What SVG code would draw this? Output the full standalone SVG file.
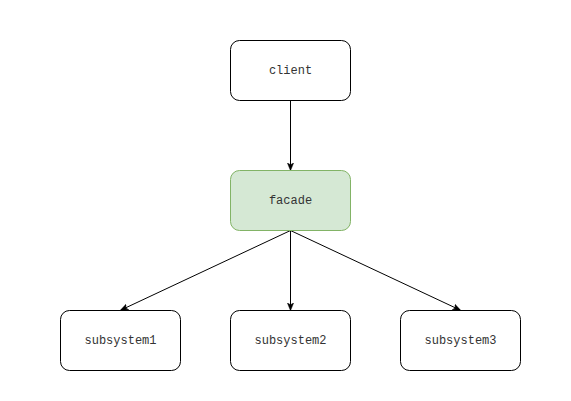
<svg xmlns="http://www.w3.org/2000/svg" width="571" height="401" viewBox="0 0 571 401">
<style>
.box{fill:#ffffff;stroke:#000000;stroke-width:1}
.green{fill:#d5e8d4;stroke:#82b366;stroke-width:1}
.lbl{font-family:"Liberation Mono","Courier New",monospace;font-size:12px;fill:#333333;text-anchor:middle;dominant-baseline:central}
.edge{stroke:#000000;stroke-width:1;fill:none}
</style>
<defs>
<marker id="arr" viewBox="0 0 10 10" refX="9" refY="5" markerWidth="8" markerHeight="8" orient="auto" markerUnits="userSpaceOnUse">
<path d="M0,1 L10,5 L0,9 L2.5,5 Z" fill="#000000" stroke="#000000" stroke-width="0.5"/>
</marker>
</defs>
<rect width="571" height="401" fill="#ffffff"/>
<g id="connectors">
<line class="edge" x1="290.5" y1="100.5" x2="290.5" y2="170" marker-end="url(#arr)"/>
<line class="edge" x1="290.5" y1="230.5" x2="121" y2="310" marker-end="url(#arr)"/>
<line class="edge" x1="290.5" y1="230.5" x2="290.5" y2="310" marker-end="url(#arr)"/>
<line class="edge" x1="290.5" y1="230.5" x2="460" y2="310" marker-end="url(#arr)"/>
</g>
<g id="client">
<rect class="box" x="230.5" y="40.5" width="120" height="60" rx="9" ry="9"/>
<text class="lbl" x="290.5" y="70.5">client</text>
</g>
<g id="facade">
<rect class="green" x="230.5" y="170.5" width="120" height="60" rx="9" ry="9"/>
<text class="lbl" x="290.5" y="200.5">facade</text>
</g>
<g id="subsystem1">
<rect class="box" x="60.5" y="310.5" width="120" height="60" rx="9" ry="9"/>
<text class="lbl" x="120.5" y="340.5">subsystem1</text>
</g>
<g id="subsystem2">
<rect class="box" x="230.5" y="310.5" width="120" height="60" rx="9" ry="9"/>
<text class="lbl" x="290.5" y="340.5">subsystem2</text>
</g>
<g id="subsystem3">
<rect class="box" x="400.5" y="310.5" width="120" height="60" rx="9" ry="9"/>
<text class="lbl" x="460.5" y="340.5">subsystem3</text>
</g>
</svg>
